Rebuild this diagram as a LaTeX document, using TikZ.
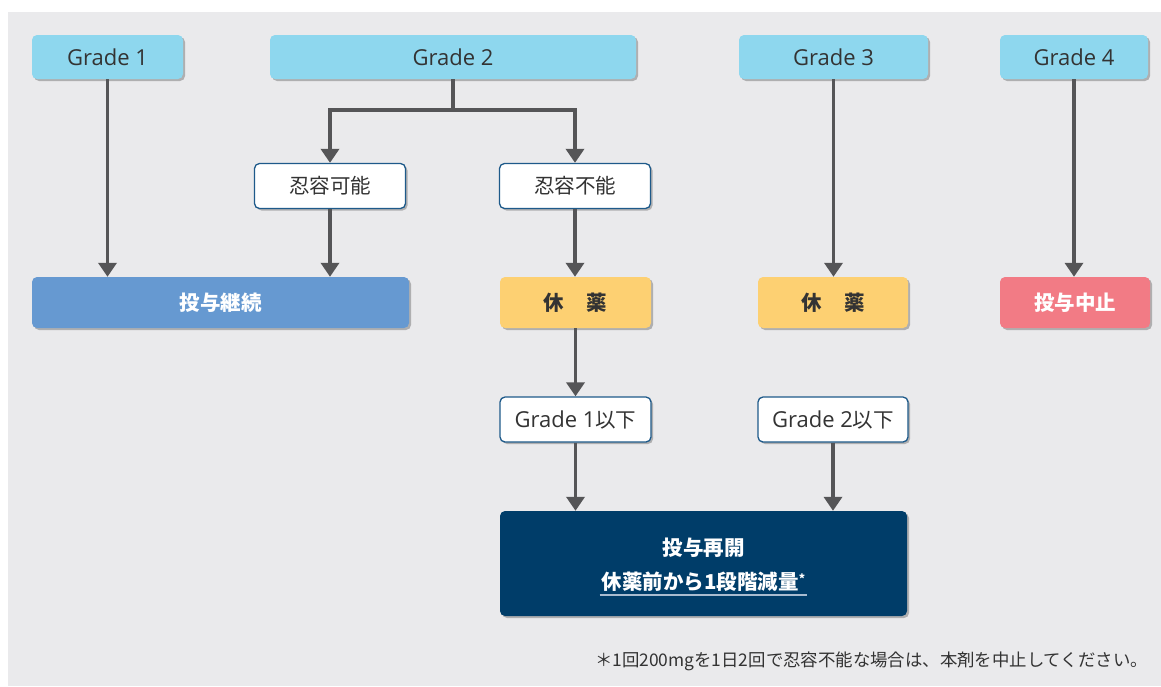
\documentclass[tikz,border=0pt]{standalone}
\usepackage{fontspec}
\setmainfont{Noto Sans CJK JP}
\newfontfamily\lat{Open Sans}
\usetikzlibrary{arrows.meta,shadows}
\definecolor{panel}{HTML}{EAEAEC}
\definecolor{lblue}{HTML}{8ED7EE}
\definecolor{mblue}{HTML}{6699D1}
\definecolor{yel}{HTML}{FDD072}
\definecolor{rd}{HTML}{F27B85}
\definecolor{navy}{HTML}{003D69}
\definecolor{bord}{HTML}{1E5A8A}
\definecolor{arrc}{HTML}{555557}
\definecolor{txt}{HTML}{333333}
\definecolor{ul}{HTML}{A9BCD0}
\newcommand{\gr}[1]{{\lat\fontsize{22}{26}\selectfont #1}}
\begin{document}
\begin{tikzpicture}[x=1pt,y=-1pt,
  box/.style={rounded corners=5pt, inner sep=0pt, align=center,
    drop shadow={shadow xshift=2pt, shadow yshift=-2pt, opacity=0.25, fill=black},
    font=\fontsize{20.5}{24}\selectfont, text=txt},
  gradebox/.style={box, fill=lblue, minimum height=44pt},
  wbox/.style={box, fill=white, draw=bord, line width=1.3pt, minimum width=151pt, minimum height=45pt},
  colbox/.style={box, minimum height=51pt, font=\fontsize{20.5}{24}\selectfont\bfseries},
  arr/.style={draw=arrc, line width=3.5pt, -{Triangle[width=18pt,length=14pt]}}
]
\useasboundingbox (0,0) rectangle (1161,686);
\fill[white] (0,0) rectangle (1161,686);
\fill[panel] (8,12) rectangle (1161,686);

% grade row
\node[gradebox, minimum width=151pt] (g1) at (107.5,57) {\gr{Grade 1}};
\node[gradebox, minimum width=366pt] (g2) at (453,57) {\gr{Grade 2}};
\node[gradebox, minimum width=189pt] (g3) at (833.5,57) {\gr{Grade 3}};
\node[gradebox, minimum width=148pt] (g4) at (1074,57) {\gr{Grade 4}};

% tolerance
\node[wbox] (kanou) at (330,186) {忍容可能};
\node[wbox] (funou) at (575,186) {忍容不能};

% action row
\node[colbox, fill=mblue, text=white, minimum width=377pt] (keizoku) at (220.5,302.5) {投与継続};
\node[colbox, fill=yel, text=txt, minimum width=151pt] (kyu1) at (575.5,302.5) {休\hspace{1.1em}薬};
\node[colbox, fill=yel, text=txt, minimum width=150pt] (kyu2) at (833,302.5) {休\hspace{1.1em}薬};
\node[colbox, fill=rd, text=white, minimum width=150pt] (chushi) at (1075,302.5) {投与中止};

% recovery
\node[wbox] (r1) at (575.5,419.5) {\gr{Grade 1}以下};
\node[wbox, minimum width=150pt] (r2) at (833,419.5) {\gr{Grade 2}以下};

% restart
\node[box, fill=navy, minimum width=407pt, minimum height=105pt] (saikai) at (703.5,563.5) {};
\node[font=\fontsize{20.5}{24}\selectfont\bfseries, text=white, inner sep=0pt] (s1) at (703.5,548) {投与再開};
\node[font=\fontsize{20.5}{24}\selectfont\bfseries, text=white, inner sep=2pt, anchor=center] (s2) at (703.5,582) {休薬前から1段階減量{\fontsize{12}{12}\selectfont\raisebox{0.5em}{*}}};
\draw[ul, line width=1.5pt] ([yshift=-1pt]s2.south west) -- ([yshift=-1pt]s2.south east);

% arrows
\draw[arr] (g1.south) -- (keizoku.north -| g1.south);
\draw[arr] (g2.south) -- ++(0,31) -| (kanou.north);
\draw[arr] (g2.south) -- ++(0,31) -| (funou.north);
\draw[arr] (kanou.south) -- (keizoku.north -| kanou.south);
\draw[arr] (funou.south) -- (kyu1.north -| funou.south);
\draw[arr] (g3.south) -- (kyu2.north -| g3.south);
\draw[arr] (g4.south) -- (chushi.north -| g4.south);
\draw[arr] (kyu1.south) -- (r1.north -| kyu1.south);
\draw[arr] (r1.south) -- (saikai.north -| r1.south);
\draw[arr] (r2.south) -- (saikai.north -| r2.south);

% footnote
\node[anchor=east, inner sep=0pt, text=txt, font=\fontsize{17.4}{20}\selectfont] (fn) at (1148,661) {＊1回200mgを1日2回で忍容不能な場合は、本剤を中止してください。};
\end{tikzpicture}
\end{document}
